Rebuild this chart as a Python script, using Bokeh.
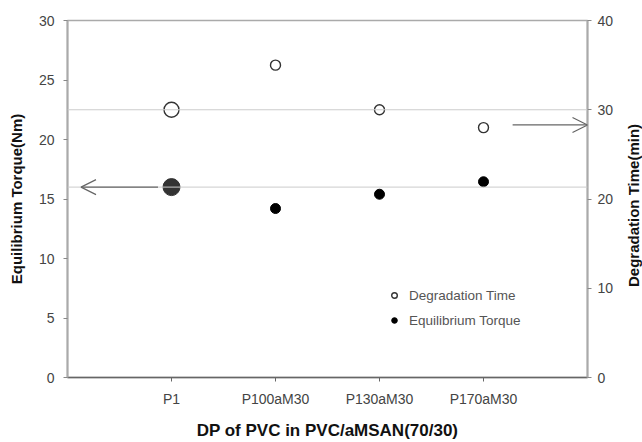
import math
from bokeh.plotting import figure
from bokeh.layouts import row
from bokeh.models import (Range1d, LinearAxis, FixedTicker, Span, Arrow, OpenHead,
                          Legend, LegendItem, ColumnDataSource, Label)
from bokeh.embed import file_html
from bokeh.resources import INLINE

# ---- data ----
categories = ["P1", "P100aM30", "P130aM30", "P170aM30"]
degradation_time = [30.0, 35.0, 30.0, 28.0]        # min (right axis)
equilibrium_torque = [16.0, 14.2, 15.4, 16.45]     # Nm (left axis)
left_ticks = [0, 5, 10, 15, 20, 25, 30]
right_ticks = [0, 10, 20, 30, 40]

# ---- styles ----
open_sizes = [15, 10, 10, 10]
filled_sizes = [17, 10, 10, 10]
filled_colors = ["#333333", "black", "black", "black"]

FONT = "Liberation Sans"
xpos = [i + 1 for i in range(len(categories))]

src = ColumnDataSource(dict(x=xpos, dt=degradation_time, tq=equilibrium_torque,
                            osz=open_sizes, fsz=filled_sizes, fcol=filled_colors))

p = figure(width=622, height=442, output_backend="svg", toolbar_location=None,
           x_range=Range1d(0, len(categories) + 1), y_range=Range1d(0, 30),
           min_border_left=67, min_border_right=35, min_border_top=20, min_border_bottom=60)
p.extra_y_ranges = {"right": Range1d(0, 40)}
p.xgrid.visible = False
p.ygrid.visible = False
p.outline_line_color = "#aaaaaa"
p.outline_line_width = 1.5
p.background_fill_color = "white"
p.border_fill_color = "white"

# reference lines
p.add_layout(Span(location=equilibrium_torque[0], dimension="width",
                  line_color="#cccccc", line_width=1))
p.add_layout(Span(location=degradation_time[0], dimension="width", y_range_name="right",
                  line_color="#cccccc", line_width=1))

# arrows
p.add_layout(Arrow(end=OpenHead(size=15, line_color="#666666", line_width=1.2),
                   x_start=0.87, y_start=equilibrium_torque[0], x_end=0.13, y_end=equilibrium_torque[0],
                   line_color="#666666", line_width=1.3))
p.add_layout(Arrow(end=OpenHead(size=15, line_color="#666666", line_width=1.2),
                   x_start=4.28, y_start=28.3, x_end=5.0, y_end=28.3, y_range_name="right",
                   line_color="#666666", line_width=1.3))

r_open = p.scatter("x", "dt", source=src, y_range_name="right", marker="circle",
                   size="osz", fill_color="white", line_color="#333333", line_width=1.4)
r_fill = p.scatter("x", "tq", source=src, marker="circle",
                   size="fsz", fill_color="fcol", line_color="fcol")

# axes
xa = p.xaxis[0]
xa.ticker = FixedTicker(ticks=xpos)
xa.major_label_overrides = {x: c for x, c in zip(xpos, categories)}
xa.axis_label = "DP of PVC in PVC/aMSAN(70/30)"
xa.axis_label_text_font = FONT
xa.axis_label_text_font_style = "bold"
xa.axis_label_text_font_size = "17px"
xa.axis_label_text_color = "#111111"
xa.axis_label_standoff = 11
xa.axis_line_color = "#666666"
xa.axis_line_width = 1.5
xa.major_tick_line_color = "#666666"
xa.major_tick_in = 0
xa.major_tick_out = 4
xa.minor_tick_line_color = None
xa.major_label_standoff = 9
xa.major_label_text_font = FONT
xa.major_label_text_font_size = "14px"
xa.major_label_text_color = "#444444"

ya = p.yaxis[0]
ya.ticker = FixedTicker(ticks=left_ticks)
ya.axis_label = "Equilibrium Torque(Nm)"
ya.axis_label_text_font = FONT
ya.axis_label_text_font_style = "bold"
ya.axis_label_text_font_size = "15px"
ya.axis_label_text_color = "#111111"
ya.axis_label_standoff = 11
ya.axis_line_color = "#aaaaaa"
ya.axis_line_width = 2
ya.major_tick_line_color = "#888888"
ya.major_tick_in = 0
ya.major_tick_out = 4
ya.minor_tick_line_color = None
ya.major_label_standoff = 9
ya.major_label_text_font = FONT
ya.major_label_text_font_size = "14px"
ya.major_label_text_color = "#444444"

ra = LinearAxis(y_range_name="right", ticker=FixedTicker(ticks=right_ticks))
ra.axis_line_color = "#aaaaaa"
ra.axis_line_width = 2
ra.major_tick_line_color = "#888888"
ra.major_tick_in = 0
ra.major_tick_out = 4
ra.minor_tick_line_color = None
ra.major_label_standoff = 6
ra.major_label_text_font = FONT
ra.major_label_text_font_size = "14px"
ra.major_label_text_color = "#444444"
p.add_layout(ra, "right")

legend = Legend(items=[LegendItem(label="Degradation Time", renderers=[r_open], index=1),
                       LegendItem(label="Equilibrium Torque", renderers=[r_fill], index=1)],
                location=(320, 47), border_line_color=None, background_fill_alpha=0,
                padding=0, margin=0, spacing=5, glyph_width=14, glyph_height=20,
                label_height=20, label_standoff=8,
                label_text_font=FONT, label_text_font_size="13.5px", label_text_color="#555555")
p.add_layout(legend, "center")

# narrow strip on the right holding the right-axis title (reads bottom-to-top)
q = figure(width=20, height=442, output_backend="svg", toolbar_location=None,
           x_range=Range1d(0, 20), y_range=Range1d(0, 442),
           x_axis_type=None, y_axis_type=None,
           min_border_left=0, min_border_right=0, min_border_top=0, min_border_bottom=0)
q.xgrid.visible = False
q.ygrid.visible = False
q.outline_line_color = None
q.background_fill_color = "white"
q.border_fill_color = "white"
q.add_layout(Label(x=11, y=213, text="Degradation Time(min)", angle=math.pi / 2,
                   text_align="center", text_baseline="middle",
                   text_font=FONT, text_font_style="bold", text_font_size="15px",
                   text_color="#111111"))

layout = row(p, q, spacing=0)
open("out.html", "w").write(file_html(layout, INLINE))
